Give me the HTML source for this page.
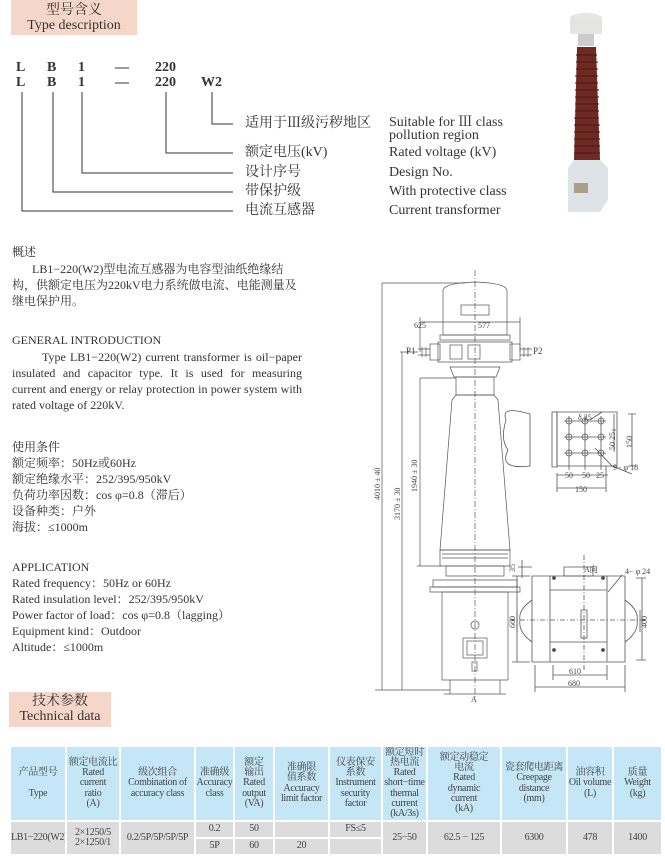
<!DOCTYPE html>
<html><head><meta charset="utf-8"><style>
*{margin:0;padding:0;box-sizing:border-box}
body{width:665px;height:861px;background:#fff;position:relative;overflow:hidden;font-family:"Liberation Serif","Noto Serif CJK SC",serif;color:#333}
.a{position:absolute;white-space:nowrap}
.hb{position:absolute;background:#f6d6c9;text-align:center;color:#333;font-size:14px;line-height:15px;padding-top:3px}
.code{font-weight:bold;font-size:14px}
.lb{font-size:14px;line-height:16px}
.tx{font-size:12px;line-height:16px}
table{position:absolute;left:9px;top:745px;width:652px;table-layout:fixed;border-collapse:separate;border-spacing:2px;font-size:10px;line-height:10.2px;text-align:center;color:#444;letter-spacing:-0.3px}
td{background:#c5e6f6;vertical-align:middle;padding:0;overflow:hidden}
tr.h td{height:73px}
tr.d td{background:#dcdcdc;height:15px}
</style></head><body>
<div class="hb" style="left:11px;top:0;width:126px;height:35px">型号含义<br>Type description</div>
<div class="a code" style="left:16px;top:60px">L</div>
<div class="a code" style="left:47px;top:60px">B</div>
<div class="a code" style="left:78px;top:60px">1</div>
<div class="a code" style="left:115px;top:60px">—</div>
<div class="a code" style="left:155px;top:60px">220</div>
<div class="a code" style="left:16px;top:75px">L</div>
<div class="a code" style="left:47px;top:75px">B</div>
<div class="a code" style="left:78px;top:75px">1</div>
<div class="a code" style="left:115px;top:75px">—</div>
<div class="a code" style="left:155px;top:75px">220</div>
<div class="a code" style="left:201px;top:75px">W2</div>
<svg class="a" style="left:0;top:0" width="250" height="220"><g stroke="#333" stroke-width="1" fill="none">
<path d="M22 92V211H233M53 92V192H233M82 92V173H233M166 92V153H233M212 92V124H233"/></g></svg>
<div class="a lb" style="left:245px;top:116px">适用于Ⅲ级污秽地区</div>
<div class="a lb" style="left:389px;top:116px;line-height:13px">Suitable for Ⅲ class<br>pollution region</div>
<div class="a lb" style="left:245px;top:145px">额定电压(kV)</div><div class="a lb" style="left:389px;top:145px">Rated voltage (kV)</div>
<div class="a lb" style="left:245px;top:165px">设计序号</div><div class="a lb" style="left:389px;top:165px">Design No.</div>
<div class="a lb" style="left:245px;top:184px">带保护级</div><div class="a lb" style="left:389px;top:184px">With protective class</div>
<div class="a lb" style="left:245px;top:203px">电流互感器</div><div class="a lb" style="left:389px;top:203px">Current transformer</div>

<svg class="a" style="left:560px;top:0" width="70" height="220">
<ellipse cx="26" cy="18" rx="16" ry="5" fill="#e6e6e6"/><rect x="10" y="18" width="32" height="16" fill="#e4e4e2"/>
<rect x="18" y="34" width="16" height="12" fill="#ccc"/>
<path d="M17 47H36L40 160H14Z" fill="#6e2a22"/>
<g stroke="#4a1814" stroke-width="1"><path d="M16 55H37M16 62H38M16 69H38M15 76H38M15 83H38M15 90H39M15 97H39M15 104H39M15 111H39M14 118H39M14 125H40M14 132H40M14 139H40M14 146H40M14 153H40"/></g>
<path d="M8 168L14 160H40L48 168V200L40 212H8Z" fill="#dde3e6"/>
<rect x="14" y="183" width="14" height="10" fill="#a9a08a"/>
</svg>

<div class="a tx" style="left:12px;top:244px">概述</div>
<div class="a tx" style="left:12px;top:261px;white-space:normal;width:290px;text-indent:20px">LB1−220(W2)型电流互感器为电容型油纸绝缘结构，供额定电压为220kV电力系统做电流、电能测量及继电保护用。</div>
<div class="a tx" style="left:12px;top:332px">GENERAL INTRODUCTION</div>
<div class="a tx" style="left:12px;top:349px;white-space:normal;width:290px;text-indent:30px;text-align:justify">Type LB1−220(W2) current transformer is oil−paper insulated and capacitor type. It is used for measuring current and energy or relay protection in power system with rated voltage of 220kV.</div>
<div class="a tx" style="left:12px;top:439px">使用条件<br>额定频率：50Hz或60Hz<br>额定绝缘水平：252/395/950kV<br>负荷功率因数：cos φ=0.8（滞后）<br>设备种类：户外<br>海拔：≤1000m</div>
<div class="a tx" style="left:12px;top:559px">APPLICATION<br>Rated frequency：50Hz or 60Hz<br>Rated insulation level：252/395/950kV<br>Power factor of load：cos φ=0.8（lagging）<br>Equipment kind：Outdoor<br>Altitude：≤1000m</div>

<svg class="a" style="left:370px;top:270px" width="295" height="432" font-family="Liberation Serif" font-size="8" fill="#444">
<g stroke="#555" stroke-width="0.7" fill="none">
<line x1="105" y1="0" x2="105" y2="430" stroke-dasharray="6 2 1 2"/>
<path d="M73 20Q75 13 105 12Q135 13 137 20V65H73Z"/>
<rect x="91" y="35" width="28" height="10"/>
<rect x="70" y="65" width="70" height="5"/>
<path d="M68 72H142V92H68Z"/>
<rect x="60" y="74" width="10" height="16"/><rect x="140" y="74" width="10" height="16"/>
<path d="M48 79H60M48 85H60M150 79H162M150 85H162M52 77V87M56 77V87M154 77V87M158 77V87"/>
<rect x="80" y="75" width="12" height="14"/><rect x="98" y="75" width="12" height="14"/>
<path d="M80 97H130L126 107H84Z"/>
<path d="M86 107H124V125H86Z"/>
<path d="M82 130L86 125H124L128 130L140 280H70Z"/>
<path d="M70 280H140V296H70ZM72 284H138M72 288H138"/>
<path d="M76 296H134V306H76Z"/>
<path d="M63 310H147V317H63Z"/>
<path d="M60 317H150V322H60Z"/>
<path d="M72 322H138V410H72Z"/>
<path d="M80 410V424M130 410V424M74 424H136"/>
<circle cx="105" cy="355" r="4"/><rect x="93" y="368" width="24" height="20"/><rect x="97" y="371" width="16" height="14"/>
<rect x="102" y="392" width="5" height="9"/>
<path d="M12 13H95M12 13V420M5 420H80M32 82V420M30 82H48M50 52H150M50 47V82M150 47V82"/>
<path d="M50 108H86M50 108V296M47 296H72"/>
</g>
<g stroke="#555" stroke-width="0.8" fill="none">
<path d="M160 144Q130 135 136 150Q130 170 138 180Q128 200 160 196Z"/>
<rect x="182" y="142" width="5" height="55"/>
<path d="M187 142H247V196H187Z"/>
<circle cx="199" cy="151" r="3"/><circle cx="215" cy="151" r="3"/><circle cx="231" cy="151" r="3"/>
<circle cx="199" cy="167" r="3"/><circle cx="215" cy="167" r="3"/><circle cx="231" cy="167" r="3"/>
<circle cx="199" cy="183" r="3"/><circle cx="215" cy="183" r="3"/><circle cx="231" cy="183" r="3"/>
<path d="M194 151H236M194 167H236M194 183H236M199 146V200M215 146V200M231 146V200"/>
<path d="M187 203V222M236 222V196M187 218H236M187 205H238"/>
<path d="M225 178L242 196L262 204"/>
<path d="M220 150L232 142"/>
<path d="M262 144V196M258 144H266M258 196H266M244 144V182M242 160H246"/>
<path d="M162 306H255V392H162ZM180 306V392M237 306V392M180 320H237M180 372H237"/>
<path d="M194 297H223V306H194Z"/>
<path d="M162 330Q148 340 150 350Q148 362 162 372M147 340V362"/>
<path d="M255 330Q269 340 267 350Q269 362 255 372M270 340V362"/>
<rect x="211" y="340" width="6" height="28"/>
<circle cx="184" cy="308" r="1.5" fill="#444"/><circle cx="233" cy="308" r="1.5" fill="#444"/>
<circle cx="184" cy="380" r="1.5" fill="#444"/><circle cx="233" cy="380" r="1.5" fill="#444"/>
<path d="M214 285V400M140 350H275" stroke-dasharray="5 2 1 2"/>
<path d="M147 306V392M142 392H160M142 306H160"/>
<path d="M272 308V390M266 308H276M266 390H276"/>
<path d="M183 405H237M183 395V410M237 395V410M165 417H255M165 395V422M255 395V422"/>
<path d="M152 290V308M148 297H162"/>
<path d="M238 322L252 305"/>
</g>
<text x="44" y="58">625</text><text x="108" y="58">577</text>
<text x="36" y="84" font-size="9">P1</text><text x="163" y="84" font-size="9">P2</text>
<text x="208" y="150">δ 25</text><text x="195" y="208">50</text><text x="212" y="208">50</text><text x="226" y="208">25</text>
<text x="205" y="222">150</text><text x="243" y="200">9− φ 18</text>
<text x="214" y="302">A向</text><text x="255" y="304">4− φ 24</text>
<text x="199" y="404">610</text><text x="198" y="416">680</text>
<text x="101" y="432" font-size="8">A</text>
<text transform="translate(10,230) rotate(-90)">4010 ± 40</text>
<text transform="translate(30,250) rotate(-90)">3170 ± 30</text>
<text transform="translate(47,222) rotate(-90)">1940 ± 30</text>
<text transform="translate(245,180) rotate(-90)">50 25</text>
<text transform="translate(262,178) rotate(-90)">150</text>
<text transform="translate(145,302) rotate(-90)">35</text>
<text transform="translate(145,358) rotate(-90)">660</text>
<text transform="translate(277,358) rotate(-90)">400</text>
</svg>

<div class="hb" style="left:9px;top:692px;width:102px;height:35px;font-size:14px;line-height:15px;padding-top:2px">技术参数<br>Technical data</div>
<table>
<colgroup><col style="width:54px"><col style="width:52px"><col style="width:73px"><col style="width:37px"><col style="width:38px"><col style="width:53px"><col style="width:51px"><col style="width:43px"><col style="width:72px"><col style="width:64px"><col style="width:44px"><col style="width:47px"></colgroup>
<tr class="h"><td>产品型号<br><br>Type</td><td>额定电流比<br>Rated<br>current<br>ratio<br>(A)</td><td>级次组合<br>Combination of<br>accuracy class</td><td>准确级<br>Accuracy<br>class</td><td>额定<br>输出<br>Rated<br>output<br>(VA)</td><td>准确限<br>值系数<br>Accuracy<br>limit factor</td><td>仪表保安<br>系数<br>Instrument<br>security<br>factor</td><td>额定短时<br>热电流<br>Rated<br>short−time<br>thermal<br>current<br>(kA/3s)</td><td>额定动稳定<br>电流<br>Rated<br>dynamic<br>current<br>(kA)</td><td>瓷套爬电距离<br>Creepage<br>distance<br>(mm)</td><td>油容积<br>Oil volume<br>(L)</td><td>质量<br>Weight<br>(kg)</td></tr>
<tr class="d"><td rowspan="2">LB1−220(W2)</td><td rowspan="2">2×1250/5<br>2×1250/1</td><td rowspan="2">0.2/5P/5P/5P/5P</td><td>0.2</td><td>50</td><td></td><td>FS≤5</td><td rowspan="2">25−50</td><td rowspan="2">62.5 − 125</td><td rowspan="2">6300</td><td rowspan="2">478</td><td rowspan="2">1400</td></tr>
<tr class="d"><td>5P</td><td>60</td><td>20</td><td></td></tr>
</table>
</body></html>
